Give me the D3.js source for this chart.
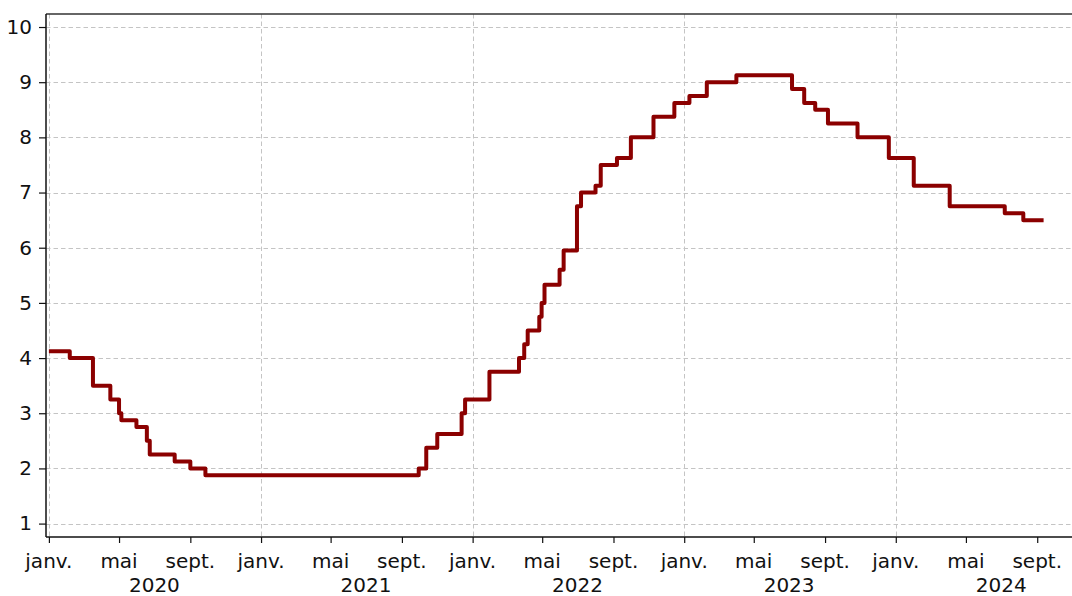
<!DOCTYPE html>
<html>
<head>
    <title>Taux</title>
    <script src="https://cdn.jsdelivr.net/npm/d3@7"></script>
    <style>
        body { margin: 0; background: white; }
        text { font-family: "DejaVu Sans", sans-serif; fill: #111; }
    </style>
</head>
<body>
    <div id="chart"></div>
    <script>
        // step dates and the rate that applies from each date on
        const stepDates = ["2020-01-01", "2020-02-06", "2020-03-17", "2020-04-16", "2020-05-01", "2020-05-05",
            "2020-05-31", "2020-06-18", "2020-06-23", "2020-08-05", "2020-09-01", "2020-09-27",
            "2021-09-30", "2021-10-13", "2021-11-01", "2021-12-13", "2021-12-19",
            "2022-01-30", "2022-03-22", "2022-03-31", "2022-04-06", "2022-04-26", "2022-04-30", "2022-05-05",
            "2022-05-31", "2022-06-07", "2022-06-30", "2022-07-07", "2022-08-01", "2022-08-10", "2022-09-07",
            "2022-10-01", "2022-11-09", "2022-12-15",
            "2023-01-10", "2023-02-09", "2023-04-01", "2023-07-06", "2023-07-27", "2023-08-15", "2023-09-06",
            "2023-10-27", "2023-12-20",
            "2024-02-01", "2024-04-03", "2024-07-07", "2024-08-08", "2024-09-12"];
        const stepValues = [4.125, 4.0, 3.5, 3.25, 3.0, 2.875,
            2.75, 2.5, 2.25, 2.125, 2.0, 1.875,
            2.0, 2.375, 2.625, 3.0, 3.25,
            3.75, 4.0, 4.25, 4.5, 4.75, 5.0, 5.33,
            5.6, 5.95, 6.75, 7.0, 7.125, 7.5, 7.625,
            8.0, 8.375, 8.625,
            8.75, 9.0, 9.125, 8.875, 8.625, 8.5, 8.25,
            8.0, 7.625,
            7.125, 6.75, 6.625, 6.5, 6.5];

        const monthLabels = { 0: "janv.", 4: "mai", 8: "sept." };
        const yearLabels = ["2020", "2021", "2022", "2023", "2024"];
        const yTicks = [1, 2, 3, 4, 5, 6, 7, 8, 9, 10];

        const W = 1072, H = 596;
        const plot = { left: 46, top: 14, right: 1072, bottom: 537 };

        const parse = d3.utcParse("%Y-%m-%d");
        const data = stepDates.map((d, i) => ({ date: parse(d), value: stepValues[i] }));

        const svg = d3.select("#chart").append("svg")
            .attr("width", W).attr("height", H);

        const x = d3.scaleUtc()
            .domain([parse("2019-12-27"), parse("2024-10-31")])
            .range([plot.left, plot.right]);
        const y = d3.scaleLinear()
            .domain([0.757, 10.236])
            .range([plot.bottom, plot.top]);

        const monthTicks = d3.utcMonth.every(4).range(parse("2020-01-01"), parse("2024-10-02"));
        const janTicks = monthTicks.filter(d => d.getUTCMonth() == 0);

        // grid
        const grid = svg.append("g")
            .attr("stroke", "#c4c4c4")
            .attr("stroke-width", 1)
            .attr("stroke-dasharray", "4.5,3");
        grid.selectAll("line.h").data(yTicks).join("line")
            .attr("class", "h")
            .attr("x1", plot.left).attr("x2", plot.right)
            .attr("y1", d => Math.round(y(d)) + 0.5).attr("y2", d => Math.round(y(d)) + 0.5);
        grid.selectAll("line.v").data(janTicks).join("line")
            .attr("class", "v")
            .attr("x1", d => Math.round(x(d)) + 0.5).attr("x2", d => Math.round(x(d)) + 0.5)
            .attr("y1", plot.top).attr("y2", plot.bottom);

        // y axis
        const yAxis = svg.append("g")
            .attr("transform", `translate(${plot.left},0)`)
            .call(d3.axisLeft(y).tickValues(yTicks).tickSize(7).tickPadding(7).tickFormat(d3.format("d")));
        yAxis.select(".domain").remove();
        yAxis.selectAll("line").attr("stroke", "#111").attr("stroke-width", 1.2);
        yAxis.selectAll("text").style("font-size", "20px");

        // x axis
        const xAxis = svg.append("g")
            .attr("transform", `translate(0,${plot.bottom})`)
            .call(d3.axisBottom(x).tickValues(monthTicks).tickSize(6).tickFormat(""));
        xAxis.select(".domain").remove();
        xAxis.selectAll("line").attr("stroke", "#111").attr("stroke-width", 1.2);

        svg.append("g").selectAll("text").data(monthTicks).join("text")
            .attr("x", d => x(d))
            .attr("y", 568)
            .attr("text-anchor", "middle")
            .style("font-size", "20px")
            .text(d => monthLabels[d.getUTCMonth()]);

        svg.append("g").selectAll("text").data(yearLabels).join("text")
            .attr("x", d => x(parse(d + "-07-01")))
            .attr("y", 592)
            .attr("text-anchor", "middle")
            .style("font-size", "20px")
            .text(d => d);

        // frame
        svg.append("line").attr("x1", plot.left).attr("x2", plot.right).attr("y1", plot.top).attr("y2", plot.top)
            .attr("stroke", "#333").attr("stroke-width", 1.5);
        svg.append("line").attr("x1", plot.left).attr("x2", plot.left).attr("y1", plot.top).attr("y2", plot.bottom)
            .attr("stroke", "#111").attr("stroke-width", 1.5);
        svg.append("line").attr("x1", plot.left).attr("x2", plot.right).attr("y1", plot.bottom).attr("y2", plot.bottom)
            .attr("stroke", "#111").attr("stroke-width", 1.5);

        // the rate line
        svg.append("path")
            .datum(data)
            .attr("fill", "none")
            .attr("stroke", "#8b0000")
            .attr("stroke-width", 4)
            .attr("stroke-linejoin", "round")
            .attr("d", d3.line()
                .curve(d3.curveStepAfter)
                .x(d => x(d.date))
                .y(d => y(d.value)));
    </script>
</body>
</html>
